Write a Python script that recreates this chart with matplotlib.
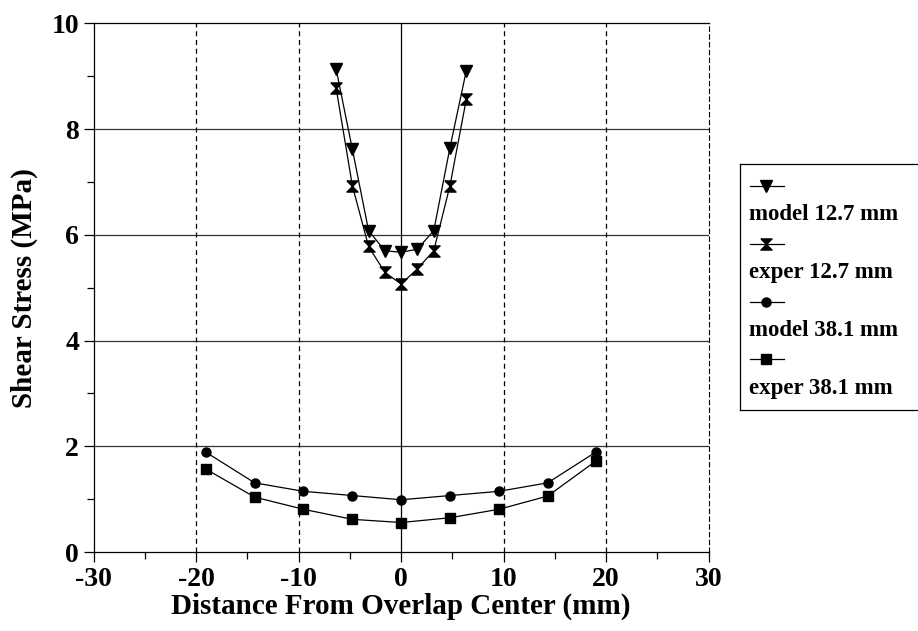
import matplotlib
matplotlib.use('Agg')
import matplotlib.pyplot as plt
import numpy as np
from matplotlib.ticker import MultipleLocator

plt.rcParams['font.family'] = ['Liberation Serif', 'DejaVu Serif']
plt.rcParams['font.weight'] = 'bold'

# data
x_127 = [-6.35, -4.76, -3.18, -1.59, 0.0, 1.59, 3.18, 4.76, 6.35]
model_127 = [9.14, 7.62, 6.08, 5.70, 5.67, 5.73, 6.08, 7.65, 9.10]
exper_127 = [8.78, 6.93, 5.78, 5.29, 5.07, 5.36, 5.70, 6.93, 8.56]

x_381 = [-19.05, -14.29, -9.53, -4.76, 0.0, 4.76, 9.53, 14.29, 19.05]
model_381 = [1.89, 1.31, 1.15, 1.07, 0.99, 1.07, 1.15, 1.31, 1.90]
exper_381 = [1.57, 1.04, 0.81, 0.62, 0.56, 0.65, 0.81, 1.06, 1.73]

labels = ['model 12.7 mm', 'exper 12.7 mm', 'model 38.1 mm', 'exper 38.1 mm']

# hourglass marker
hourglass = [(-1, 1), (1, 1), (-1, -1), (1, -1), (-1, 1)]

styles = [
    dict(marker='v', markersize=9),
    dict(marker=hourglass, markersize=8),
    dict(marker='o', markersize=6.5),
    dict(marker='s', markersize=6.5),
]
series = [(x_127, model_127), (x_127, exper_127), (x_381, model_381), (x_381, exper_381)]

fig = plt.figure(figsize=(9.18, 6.31), dpi=100)
ax = fig.add_axes([0.102, 0.125, 0.670, 0.838])

# grid
for yv in [2, 4, 6, 8]:
    ax.axhline(yv, color='#333333', lw=0.9, zorder=1)
for xv in [-20, -10, 10, 20]:
    ax.axvline(xv, color='black', lw=0.9, ls=(0, (4, 3)), zorder=1)
ax.axvline(0, color='black', lw=0.9, zorder=1)

for (xs, ys), st in zip(series, styles):
    ax.plot(xs, ys, color='black', lw=0.9, markerfacecolor='black',
            markeredgecolor='black', zorder=3, **st)

ax.set_xlim(-30, 30)
ax.set_ylim(0, 10)
ax.xaxis.set_major_locator(MultipleLocator(10))
ax.xaxis.set_minor_locator(MultipleLocator(5))
ax.yaxis.set_major_locator(MultipleLocator(2))
ax.yaxis.set_minor_locator(MultipleLocator(1))
ax.tick_params(which='both', direction='out', width=0.9, labelsize=20)
ax.tick_params(which='major', length=7)
ax.tick_params(which='minor', length=5)
ax.tick_params(axis='x', pad=4)
ax.spines['right'].set_linestyle((0, (4, 3)))
ax.spines['right'].set_linewidth(0.8)
for s in ['left', 'top', 'bottom']:
    ax.spines[s].set_linewidth(0.9)
for lab in ax.get_xticklabels() + ax.get_yticklabels():
    lab.set_fontweight('bold')
ax.set_xticklabels([str(int(v)) for v in ax.get_xticks()])

ax.set_xlabel('Distance From Overlap Center (mm)', fontsize=21, fontweight='bold', labelpad=0)
ax.set_ylabel('Shear Stress (MPa)', fontsize=21, fontweight='bold', labelpad=10)

# legend box, cut off at the right edge
lax = fig.add_axes([0.806, 0.350, 0.25, 0.390])
lax.set_xlim(0, 1)
lax.set_ylim(0, 1)
lax.set_xticks([])
lax.set_yticks([])
for s in ['left', 'top', 'bottom']:
    lax.spines[s].set_linewidth(0.9)
lax.spines['right'].set_visible(False)
row_h = 1.0 / 8.5
for i, (lab, st) in enumerate(zip(labels, styles)):
    y_line = 1 - row_h * (0.75 + 2 * i)
    y_text = y_line - row_h
    lax.plot([0.045, 0.19], [y_line, y_line], color='black', lw=0.9)
    lax.plot([0.115], [y_line], color='black', markerfacecolor='black',
             markeredgecolor='black', **st)
    lax.text(0.04, y_text, lab, fontsize=16.5, fontweight='bold', va='center', ha='left')

fig.savefig('out.png', dpi=100)
